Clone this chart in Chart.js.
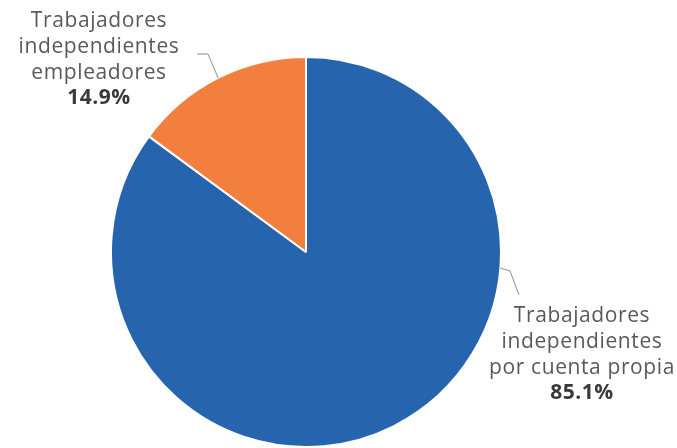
<!DOCTYPE html>
<html>
<head>
<meta charset="utf-8">
<script src="https://cdn.jsdelivr.net/npm/chart.js@4"></script>
<style>
  html, body { margin: 0; padding: 0; background: #fff; }
  #wrap { width: 677px; height: 448px; position: relative; }
</style>
</head>
<body>
<div id="wrap"><canvas id="pieChart"></canvas></div>
<script>
const categories = [
  ["Trabajadores", "independientes", "por cuenta propia"],
  ["Trabajadores", "independientes", "empleadores"],
]
const shares = [85.1, 14.9]
const colors = ["#2764ae", "#f27f3d"]

// where each leader line touches the pie (degrees clockwise from top) and where its label sits
const labelSpots = [
  { angle: 94.7, elbow: [510, 271], end: [519, 295], textX: 582, textY: 316 },
  { angle: 333.2, elbow: [208, 54], end: [197, 54], textX: 99, textY: 21 },
]

const leaderLabels = {
  id: "leaderLabels",
  afterDraw(chart) {
    const ctx = chart.ctx
    const meta = chart.getDatasetMeta(0)
    meta.data.forEach((arc, i) => {
      const spot = labelSpots[i]
      const a = (spot.angle - 90) * Math.PI / 180
      const sx = arc.x + arc.outerRadius * Math.cos(a)
      const sy = arc.y + arc.outerRadius * Math.sin(a)
      ctx.save()
      ctx.strokeStyle = "#8c8c8c"
      ctx.lineWidth = 1
      ctx.beginPath()
      ctx.moveTo(sx, sy)
      ctx.lineTo(spot.elbow[0], spot.elbow[1])
      ctx.lineTo(spot.end[0], spot.end[1])
      ctx.stroke()

      ctx.textAlign = "center"
      ctx.textBaseline = "middle"
      ctx.fillStyle = "#595959"
      ctx.font = "21px 'Open Sans'"
      ctx.letterSpacing = "0.6px"
      const lines = categories[i]
      lines.forEach((t, k) => {
        ctx.fillText(t, spot.textX, spot.textY + k * 26)
      })
      ctx.fillStyle = "#3a3a3a"
      ctx.font = "bold 21px 'Open Sans'"
      ctx.letterSpacing = "0.5px"
      ctx.fillText(shares[i].toFixed(1) + "%", spot.textX, spot.textY + lines.length * 26 - 1)
      ctx.restore()
    })
  },
}

new Chart(document.getElementById("pieChart"), {
  type: "pie",
  data: {
    labels: categories.map(c => c.join(" ")),
    datasets: [
      {
        data: shares,
        backgroundColor: colors,
        borderColor: "#ffffff",
        borderWidth: 2,
      },
    ],
  },
  options: {
    responsive: true,
    maintainAspectRatio: false,
    animation: false,
    layout: { padding: { top: 56, bottom: -2, left: 0, right: 65 } },
    plugins: {
      legend: { display: false },
      tooltip: { enabled: false },
    },
  },
  plugins: [leaderLabels],
})
</script>
</body>
</html>
